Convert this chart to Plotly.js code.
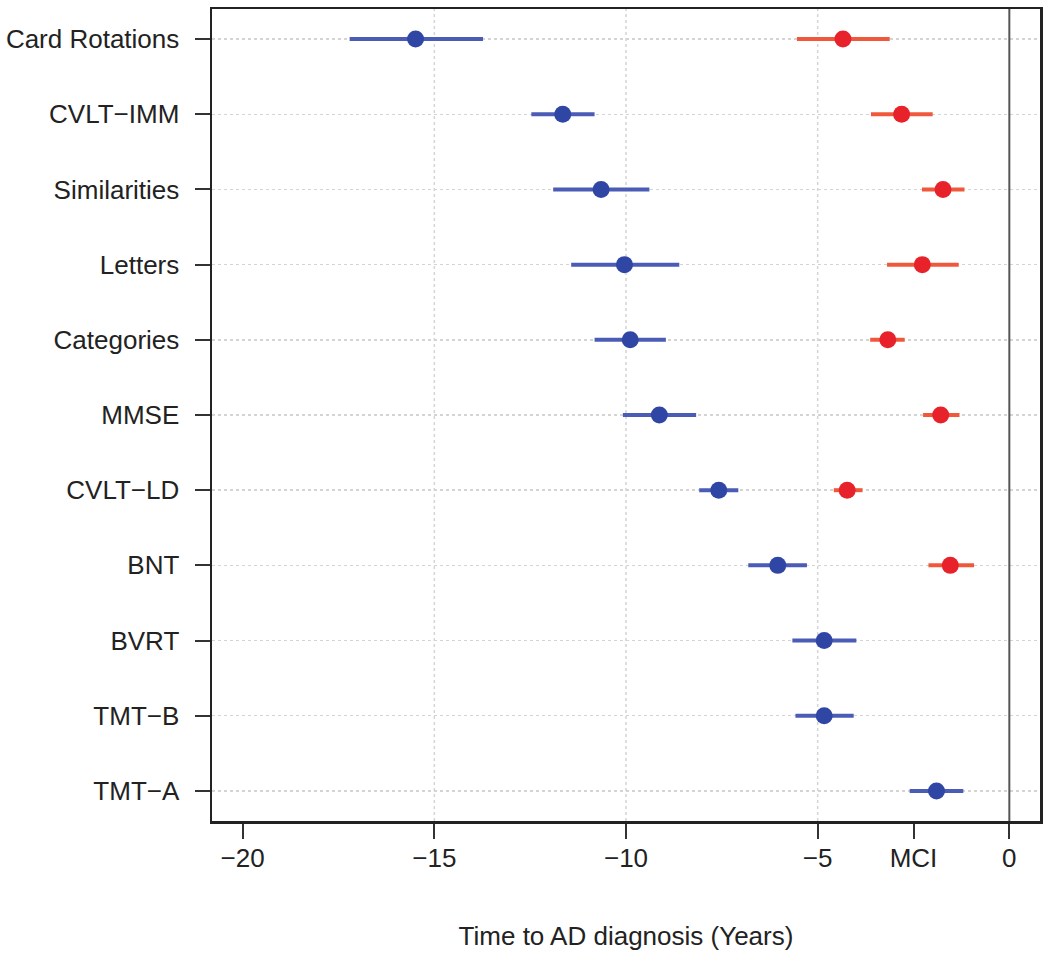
<!DOCTYPE html>
<html>
<head>
<meta charset="utf-8">
<script src="https://cdn.plot.ly/plotly-3.0.1.min.js"></script>
<style>html,body{margin:0;padding:0;background:#fff;}#chart{width:1050px;height:955px;}</style>
</head>
<body>
<div id="chart"></div>
<script>
// Categories, top to bottom
const tests = ["Card Rotations", "CVLT\u2212IMM", "Similarities", "Letters", "Categories", "MMSE", "CVLT\u2212LD", "BNT", "BVRT", "TMT\u2212B", "TMT\u2212A"];

// Blue series (earlier change point) : estimate, lower, upper
const blueMean = [-15.49, -11.65, -10.65, -10.04, -9.89, -9.13, -7.58, -6.04, -4.83, -4.83, -1.90];
const blueLow  = [-17.21, -12.47, -11.90, -11.43, -10.82, -10.08, -8.09, -6.81, -5.66, -5.58, -2.60];
const blueHigh = [-13.73, -10.82, -9.39, -8.61, -8.96, -8.17, -7.07, -5.28, -3.99, -4.06, -1.20];

// Red series (later change point), present for the first 8 tests
const redTests = ["Card Rotations", "CVLT\u2212IMM", "Similarities", "Letters", "Categories", "MMSE", "CVLT\u2212LD", "BNT"];
const redMean = [-4.34, -2.81, -1.73, -2.27, -3.17, -1.79, -4.23, -1.54];
const redLow  = [-5.54, -3.61, -2.28, -3.19, -3.63, -2.25, -4.58, -2.11];
const redHigh = [-3.12, -2.00, -1.17, -1.32, -2.73, -1.30, -3.83, -0.92];

// X axis ticks
const xTickVals = [-20, -15, -10, -5, -2.5, 0];
const xTickText = ["\u221220", "\u221215", "\u221210", "\u22125", "MCI", "0"];
const vGridX = [-15, -10, -5];
const diagnosisX = 0;

const plus = (m, h) => h.map((v, i) => v - m[i]);
const minus = (m, l) => l.map((v, i) => m[i] - v);

const blueMarker = "#2f46a4", blueLine = "#4a5cb6";
const redMarker = "#e8222a", redLine = "#f0583c";

const traces = [
  {
    type: "scatter", mode: "markers", x: blueMean, y: tests,
    marker: {color: blueMarker, size: 17},
    error_x: {type: "data", array: plus(blueMean, blueHigh), arrayminus: minus(blueMean, blueLow), symmetric: false, color: blueLine, thickness: 4, width: 0},
    showlegend: false, hoverinfo: "x+y"
  },
  {
    type: "scatter", mode: "markers", x: redMean, y: redTests,
    marker: {color: redMarker, size: 17},
    error_x: {type: "data", array: plus(redMean, redHigh), arrayminus: minus(redMean, redLow), symmetric: false, color: redLine, thickness: 4, width: 0},
    showlegend: false, hoverinfo: "x+y"
  }
];

const shapes = vGridX.map(v => ({
  type: "line", xref: "x", yref: "paper", x0: v, x1: v, y0: 0, y1: 1,
  line: {color: "#d4d4d4", width: 1.5, dash: "dot"}, layer: "below"
}));
shapes.push({
  type: "line", xref: "x", yref: "paper", x0: diagnosisX, x1: diagnosisX, y0: 0, y1: 1,
  line: {color: "#555555", width: 2}, layer: "above"
});

const font = {family: "Liberation Sans, Arial, sans-serif", size: 26, color: "#222"};

const layout = {
  width: 1050, height: 955,
  paper_bgcolor: "#fff", plot_bgcolor: "#fff",
  margin: {l: 212, r: 10, t: 9, b: 134},
  font: font,
  showlegend: false,
  xaxis: {
    range: [-20.8, 0.8], tickvals: xTickVals, ticktext: xTickText,
    showgrid: false, zeroline: false,
    showline: true, mirror: true, linecolor: "#222", linewidth: 2.5,
    ticks: "outside", ticklen: 15, tickwidth: 2, tickcolor: "#333",
    tickfont: font, ticklabelstandoff: -3,
    title: {text: "Time to AD diagnosis (Years)", font: font, standoff: 55},
    automargin: false
  },
  yaxis: {
    type: "category", categoryorder: "array", categoryarray: tests.slice().reverse(),
    range: [-0.4, 10.4],
    showgrid: true, gridcolor: "#d4d4d4", griddash: "dot", gridwidth: 1.5,
    showline: true, mirror: true, linecolor: "#222", linewidth: 2.5,
    ticks: "outside", ticklen: 15, tickwidth: 2, tickcolor: "#333",
    tickfont: font, ticklabelstandoff: 10,
    automargin: false
  },
  shapes: shapes
};

Plotly.newPlot("chart", traces, layout, {displayModeBar: false, staticPlot: true});
</script>
</body>
</html>
